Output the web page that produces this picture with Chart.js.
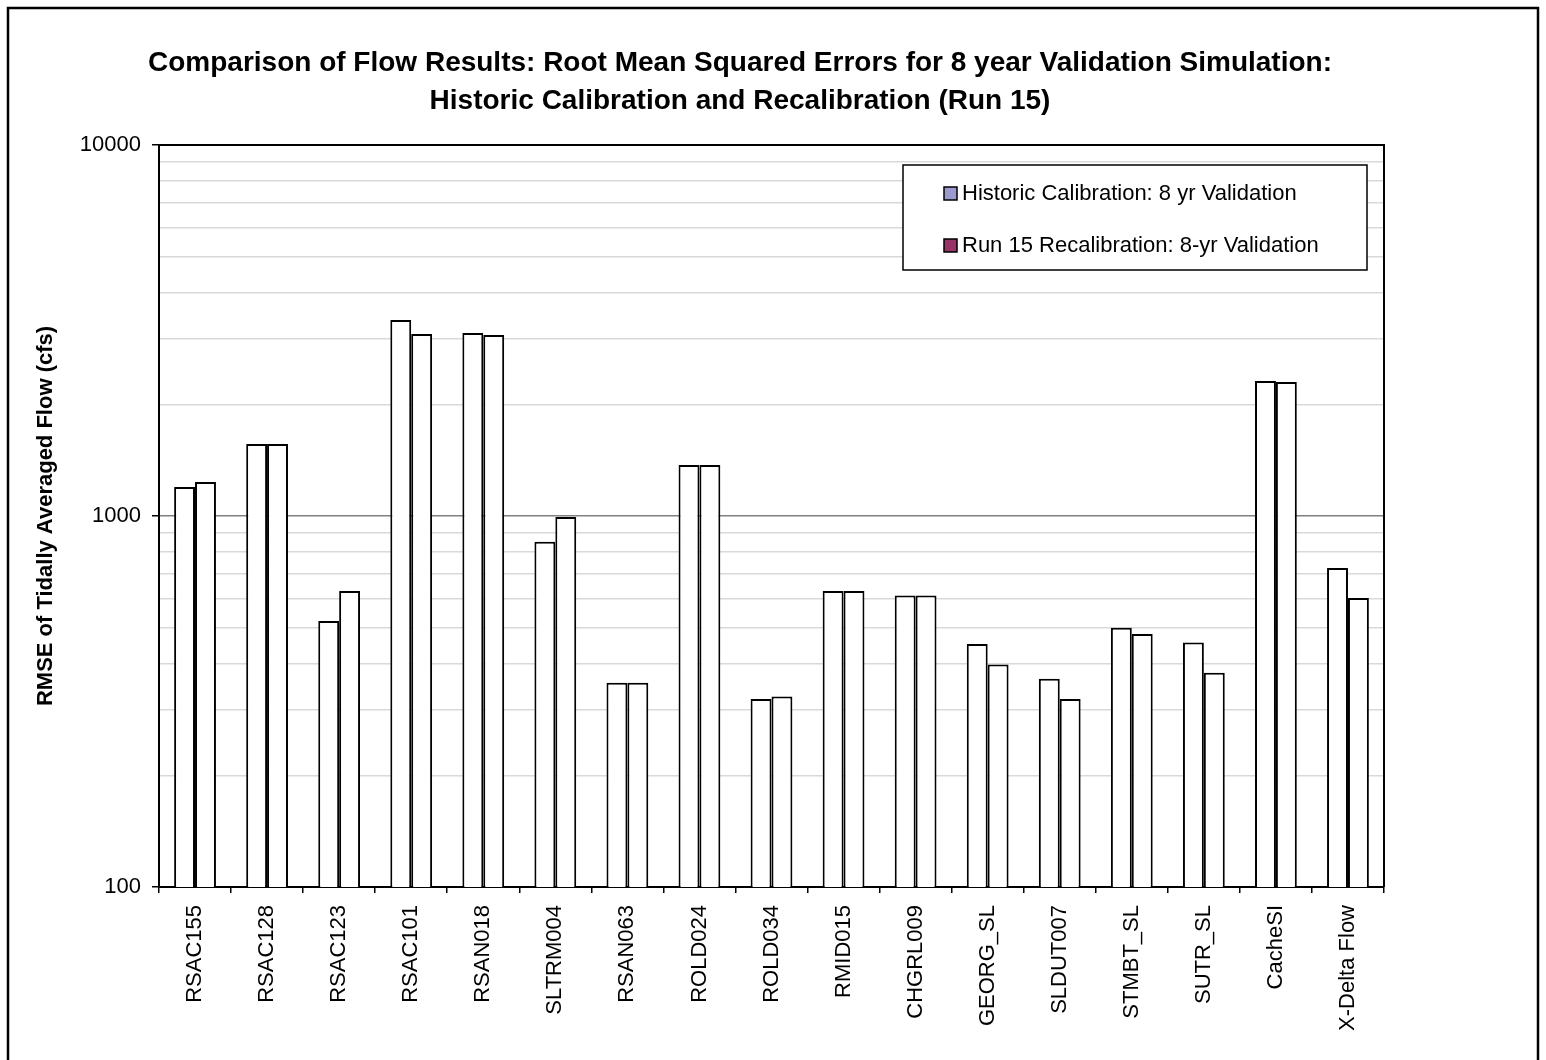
<!DOCTYPE html>
<html>
<head>
<meta charset="utf-8">
<title>RMSE comparison</title>
<script src="https://cdn.jsdelivr.net/npm/chart.js@4.4.1/dist/chart.umd.min.js"></script>
<style>
  html, body { margin: 0; padding: 0; background: #ffffff; }
  canvas { display: block; }
</style>
</head>
<body>
<canvas id="rmseChart" width="1546" height="1060"></canvas>
<script>
'use strict';

// stations along the x axis
const stations = ['RSAC155', 'RSAC128', 'RSAC123', 'RSAC101', 'RSAN018', 'SLTRM004', 'RSAN063',
  'ROLD024', 'ROLD034', 'RMID015', 'CHGRL009', 'GEORG_SL', 'SLDUT007', 'STMBT_SL', 'SUTR_SL',
  'CacheSI', 'X-Delta Flow'];

// RMSE (cfs)
const historicRmse = [1197, 1564, 521, 3377, 3113, 852, 355, 1372, 321, 628, 611, 452, 364, 500, 456, 2311, 724];
const run15Rmse = [1235, 1564, 628, 3095, 3073, 994, 355, 1372, 326, 628, 611, 398, 321, 481, 378, 2297, 601];

const seriesNames = ['Historic Calibration: 8 yr Validation', 'Run 15 Recalibration: 8-yr Validation'];
const yTickLabels = [100, 1000, 10000];

const titleLines = ['Comparison of Flow Results: Root Mean Squared Errors for 8 year Validation Simulation:',
  'Historic Calibration and Recalibration (Run 15)'];

const FONT = '"Liberation Sans", Arial, sans-serif';
const swatchColors = ['#9b9bd0', '#993366'];

// frame, title, plot box and legend drawn by hand
const decorations = {
  id: 'decorations',
  afterDraw(chart) {
    const ctx = chart.ctx;
    const a = chart.chartArea;
    ctx.save();
    // outer frame
    ctx.strokeStyle = '#000';
    ctx.lineWidth = 2.5;
    ctx.strokeRect(8, 8, 1530, 1070);

    // plot box top / right
    ctx.lineWidth = 2;
    ctx.beginPath();
    ctx.moveTo(a.left, a.top);
    ctx.lineTo(a.right, a.top);
    ctx.lineTo(a.right, a.bottom);
    ctx.stroke();

    // title
    ctx.fillStyle = '#000';
    ctx.font = 'bold 28px ' + FONT;
    ctx.textAlign = 'center';
    ctx.textBaseline = 'middle';
    ctx.fillText(titleLines[0], 740, 63);
    ctx.fillText(titleLines[1], 740, 101);

    // legend
    ctx.fillStyle = '#fff';
    ctx.fillRect(903, 165, 464, 105);
    ctx.lineWidth = 1.5;
    ctx.strokeRect(903, 165, 464, 105);
    ctx.font = '22px ' + FONT;
    ctx.textAlign = 'left';
    seriesNames.forEach((name, i) => {
      const cy = 193 + i * 52;
      ctx.fillStyle = swatchColors[i];
      ctx.fillRect(944, cy - 6, 13, 13);
      ctx.strokeStyle = '#000';
      ctx.lineWidth = 1.5;
      ctx.strokeRect(944, cy - 6, 13, 13);
      ctx.fillStyle = '#000';
      ctx.fillText(name, 962, cy + 1);
    });
    ctx.restore();
  }
};

const ctx = document.getElementById('rmseChart').getContext('2d');
const rmseChart = new Chart(ctx, {
  type: 'bar',
  data: {
    labels: stations,
    datasets: [{
      label: seriesNames[0],
      data: historicRmse,
      backgroundColor: '#ffffff',
      borderColor: '#000000',
      borderWidth: 2
    }, {
      label: seriesNames[1],
      data: run15Rmse,
      backgroundColor: '#ffffff',
      borderColor: '#000000',
      borderWidth: 2
    }]
  },
  options: {
    responsive: false,
    animation: false,
    categoryPercentage: 0.58,
    barPercentage: 1,
    layout: { padding: { top: 145, right: 162, left: 0, bottom: 0 } },
    plugins: {
      legend: { display: false },
      title: { display: false },
      tooltip: { enabled: false }
    },
    scales: {
      x: {
        afterFit(scale) { scale.height = 173; },
        grid: {
          display: true,
          drawOnChartArea: false,
          drawTicks: true,
          tickLength: 6,
          color: '#000',
          lineWidth: 1.5
        },
        border: { color: '#000', width: 2 },
        ticks: {
          autoSkip: false,
          minRotation: 90,
          maxRotation: 90,
          padding: 12,
          color: '#000',
          font: { family: FONT, size: 22 }
        }
      },
      y: {
        type: 'logarithmic',
        min: 100,
        max: 10000,
        afterFit(scale) { scale.width = 159; },
        afterBuildTicks(scale) {
          const ticks = [];
          for (let d = 0; d < yTickLabels.length - 1; d++) {
            for (let m = 1; m <= 9; m++) ticks.push({ value: yTickLabels[d] * m });
          }
          ticks.push({ value: yTickLabels[yTickLabels.length - 1] });
          scale.ticks = ticks;
        },
        grid: {
          color: (c) => (c.tick && c.tick.value === 1000 ? '#808080' : '#d9d9d9'),
          tickColor: (c) => (c.tick && yTickLabels.includes(c.tick.value) ? '#000' : 'rgba(0,0,0,0)'),
          tickLength: 7,
          lineWidth: 1.5
        },
        border: { color: '#000', width: 2 },
        ticks: {
          autoSkip: false,
          padding: 11,
          color: '#000',
          font: { family: FONT, size: 22 },
          callback: (v) => (yTickLabels.includes(v) ? String(v) : '')
        },
        title: {
          display: true,
          text: 'RMSE of Tidally Averaged Flow (cfs)',
          color: '#000',
          font: { family: FONT, size: 22, weight: 'bold' },
          padding: { top: 33, bottom: 0 }
        }
      }
    }
  },
  plugins: [decorations]
});
</script>
</body>
</html>
